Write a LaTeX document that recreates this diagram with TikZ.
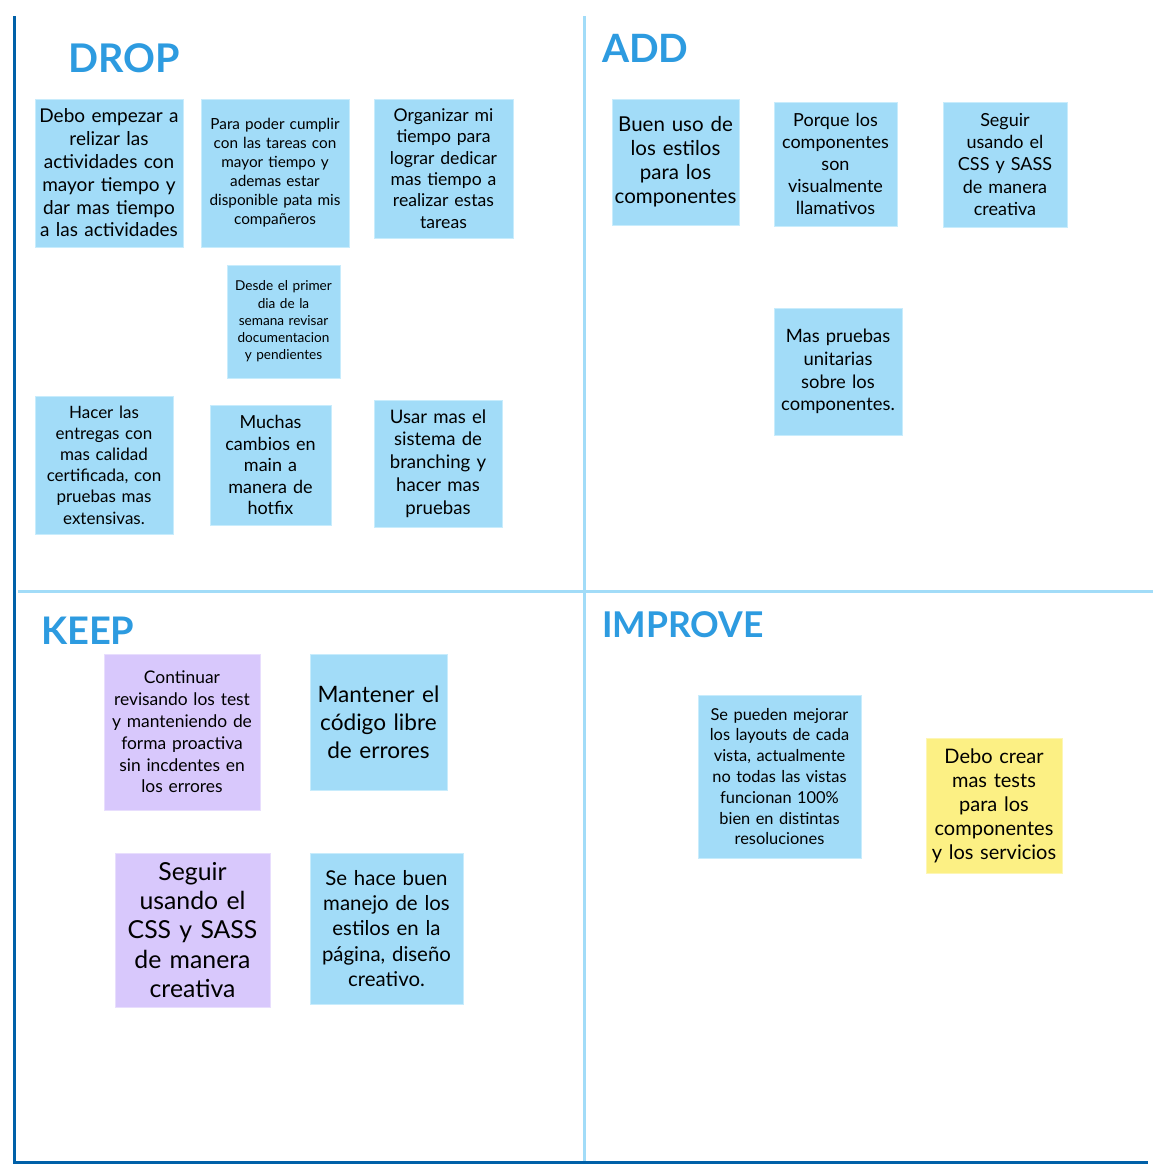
\documentclass[tikz,border=0pt]{standalone}
\usepackage{fontspec}
\setmainfont{Lato}
\definecolor{noteblue}{HTML}{A2DCF8}
\definecolor{notepurple}{HTML}{D8C8FC}
\definecolor{noteyellow}{HTML}{FCF084}
\definecolor{noteedge}{HTML}{C8ECFC}
\definecolor{titleblue}{HTML}{2D9BE0}
\definecolor{framedark}{HTML}{0060A8}
\definecolor{framelight}{HTML}{A2DCF8}
\newcommand{\fs}[2]{\fontsize{#1}{#2}\selectfont}
\tikzset{
  note/.style={fill=noteblue, draw=noteedge, line width=0.8pt, inner sep=0pt,
    align=center, text=black},
  purplenote/.style={fill=notepurple, draw=notepurple!60},
  yellownote/.style={fill=noteyellow, draw=noteyellow!60},
  quadtitle/.style={anchor=base west, inner sep=0pt, text=titleblue,
    font=\fontsize{38}{38}\selectfont\bfseries},
  darkline/.style={draw=framedark, line width=3.2pt},
  lightline/.style={draw=framelight, line width=3.2pt},
}
% sticky note from its corners: [style and font], x1, y1, x2, y2, name, text
\newcommand{\sticky}[7][]{%
  \node[note,#1, minimum width=#4-#2, minimum height=#5-#3,
        text width=#4-#2] (#6) at ({(#2+#4)/2},{(#3+#5)/2}) {#7};}
\begin{document}
\begin{tikzpicture}[x=1pt,y=-1pt]
\useasboundingbox (0,0) rectangle (1163,1173);
\fill[white] (0,0) rectangle (1163,1173);

% quadrant frame
\coordinate (midtop) at (584.5,16);
\coordinate (midbot) at (584.5,1162);
\coordinate (midleft) at (18,591.5);
\coordinate (midright) at (1153,591.5);
\coordinate (lefttop) at (14.5,16);
\coordinate (leftbot) at (14.5,1164);
\coordinate (botleft) at (14.5,1162.5);
\coordinate (botright) at (1148,1162.5);
\draw[lightline] (midtop) -- (midbot);
\draw[lightline] (midleft) -- (midright);
\draw[darkline] (lefttop) -- (leftbot);
\draw[darkline] (botleft) -- (botright);

% quadrant titles
\node[quadtitle, font=\fontsize{39.5}{39.5}\selectfont\bfseries] (tdrop) at (68,72) {DROP};
\node[quadtitle, font=\fontsize{39}{39}\selectfont\bfseries] (tadd) at (602,62) {ADD};
\node[quadtitle] (tkeep) at (41,644) {KEEP};
\node[quadtitle, font=\fontsize{35.5}{35.5}\selectfont\bfseries] (timprove) at (602,637) {IMPROVE};

% DROP
\sticky[font=\fs{19}{22.8}]{35}{99}{183}{247}{d1}{Debo empezar a\\relizar las\\actividades con\\mayor tiempo y\\dar mas tiempo\\a las actividades}
\sticky[font=\fs{15.3}{19}]{201}{99}{349}{247}{d2}{Para poder cumplir\\con las tareas con\\mayor tiempo y\\ademas estar\\disponible pata mis\\compañeros}
\sticky[font=\fs{17.6}{21.4}]{374}{99}{513}{238}{d3}{Organizar mi\\tiempo para\\lograr dedicar\\mas tiempo a\\realizar estas\\tareas}
\sticky[font=\fs{13.6}{17.3}]{227}{265}{340}{378}{d4}{Desde el primer\\dia de la\\semana revisar\\documentacion\\y pendientes}
\sticky[font=\fs{17}{21.2}]{35}{396}{173}{534}{d5}{Hacer las\\entregas con\\mas calidad\\certificada, con\\pruebas mas\\extensivas.}
\sticky[font=\fs{18}{21.5}]{210}{405}{331}{525}{d6}{Muchas\\cambios en\\main a\\manera de\\hotfix}
\sticky[font=\fs{18.6}{22.8}]{374}{400}{502}{527}{d7}{Usar mas el\\sistema de\\branching y\\hacer mas\\pruebas}

% ADD
\sticky[font=\fs{20.5}{24}]{612}{99}{739}{225}{a1}{Buen uso de\\los estilos\\para los\\componentes}
\sticky[font=\fs{18}{22}]{774}{102}{897}{226}{a2}{Porque los\\componentes\\son\\visualmente\\llamativos}
\sticky[font=\fs{18}{22.2}]{943}{102}{1067}{227}{a3}{Seguir\\usando el\\CSS y SASS\\de manera\\creativa}
\sticky[font=\fs{18.4}{22.7}]{774}{308}{902}{435}{a4}{Mas pruebas\\unitarias\\sobre los\\componentes.}

% KEEP
\sticky[purplenote, font=\fs{17.4}{21.8}]{104}{654}{260}{810}{k1}{Continuar\\revisando los test\\y manteniendo de\\forma proactiva\\sin incdentes en\\los errores}
\sticky[font=\fs{22.6}{28}]{310}{654}{447}{790}{k2}{Mantener el\\código libre\\de errores}
\sticky[purplenote, font=\fs{24.8}{29.2}]{115}{853}{270}{1007}{k3}{Seguir\\usando el\\CSS y SASS\\de manera\\creativa}
\sticky[font=\fs{20.4}{25.2}]{310}{853}{463}{1004}{k4}{Se hace buen\\manejo de los\\estilos en la\\página, diseño\\creativo.}

% IMPROVE
\sticky[font=\fs{16.4}{20.8}]{698}{695}{861}{858}{i1}{Se pueden mejorar\\los layouts de cada\\vista, actualmente\\no todas las vistas\\funcionan 100\%\\bien en distintas\\resoluciones}
\sticky[yellownote, font=\fs{20}{24}]{926}{738}{1062}{873}{i2}{Debo crear\\mas tests\\para los\\componentes\\y los servicios}
\end{tikzpicture}
\end{document}
